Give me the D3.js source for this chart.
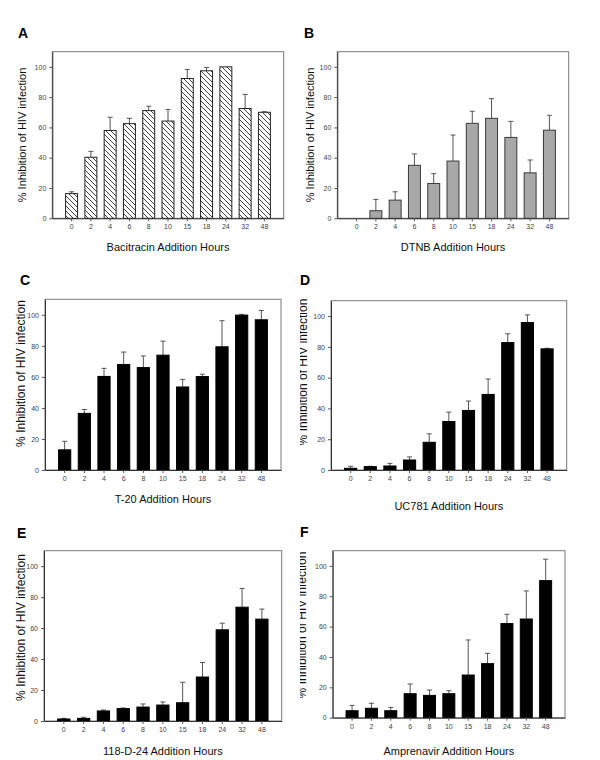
<!DOCTYPE html>
<html><head><meta charset="utf-8">
<script src="https://cdn.jsdelivr.net/npm/d3@7"></script>
<style>body{margin:0;background:#fff}svg{display:block;font-family:Arial,"Liberation Sans",sans-serif}</style>
</head><body><svg id="c" width="600" height="760"></svg>
<script>
// ---------- data ----------
const hours = ["0","2","4","6","8","10","15","18","24","32","48"];
const yTicks = [0,20,40,60,80,100];
const panelLetters = ["A","B","C","D","E","F"];
const yTitle = "% Inhibition of HIV infection";
const xTitles = ["Bacitracin Addition Hours","DTNB Addition Hours","T-20 Addition Hours",
                 "UC781 Addition Hours","118-D-24 Addition Hours","Amprenavir Addition Hours"];

const bacitracinMean = [16.3, 40.3, 58, 62.5, 71.1, 64.2, 92.3, 97.4, 100, 72.5, 70];
const bacitracinSD   = [1.2, 3.9, 8.7, 3.5, 2.9, 7.7, 6, 2.2, 0, 9.3, 0.4];
const dtnbMean = [0, 5, 12, 35, 23, 37.8, 62.7, 66, 53.4, 30, 58.2];
const dtnbSD   = [0, 7.5, 5.5, 7.5, 6.5, 17.2, 8, 13, 10.6, 8.5, 9.8];
const t20Mean = [13, 36.5, 60.3, 68, 66, 74, 53.5, 60.2, 79.4, 99.8, 96.8];
const t20SD   = [5.5, 2.5, 5.2, 8, 7.5, 9, 4.9, 1.5, 16.8, 0.5, 6];
const uc781Mean = [1.1, 2.2, 2.6, 6.5, 18, 31.5, 38.7, 49.1, 82.8, 95.8, 78.7];
const uc781SD   = [1.3, 0.2, 1.7, 2, 5.5, 6.1, 6.1, 10, 5.7, 5, 0.4];
const d24Mean = [1.3, 1.7, 6.5, 8, 9, 10.3, 11.8, 28.4, 58.9, 73.5, 65.8];
const d24SD   = [0.4, 0.7, 0.6, 0.4, 2, 2, 13.2, 9.4, 4.3, 12.1, 6.5];
const amprenavirMean = [4.6, 6.2, 4.6, 15.8, 14.7, 15.8, 28.1, 35.6, 62, 65, 90.3];
const amprenavirSD   = [3.5, 3.3, 2.2, 6.4, 3.5, 2, 23.1, 6.8, 6.1, 18.5, 14.1];

const seriesMeans = [bacitracinMean, dtnbMean, t20Mean, uc781Mean, d24Mean, amprenavirMean];
const seriesSDs   = [bacitracinSD, dtnbSD, t20SD, uc781SD, d24SD, amprenavirSD];

// ---------- layout ----------
const layout = [
  {l:52.3, r:283.7, t:51.7, b:218.3, lx:18, ly:38, xtY:251, ytX:22, ytY:135, ytS:11, fill:"hatch", clip:false},
  {l:337.3, r:568.7, t:51.7, b:218.3, lx:304, ly:38, xtY:251, ytX:310, ytY:135, ytS:11, fill:"gray", clip:false},
  {l:45, r:281, t:299.3, b:470, lx:20, ly:285, xtY:503, ytX:21, ytY:373.5, ytS:12, fill:"black", clip:false},
  {l:331, r:566.7, t:300.7, b:470, lx:300, ly:285, xtY:510, ytX:303, ytY:372, ytS:12, fill:"black", clip:true},
  {l:44, r:281.7, t:550.7, b:721, lx:17, ly:538, xtY:755, ytX:20.5, ytY:627.5, ytS:12, fill:"black", clip:false},
  {l:332.7, r:565, t:550.7, b:717.7, lx:300, ly:537, xtY:755, ytX:302, ytY:625, ytS:12, fill:"black", clip:true}
];

const svg = d3.select("#c");
const defs = svg.append("defs");
const pat = defs.append("pattern").attr("id","hatch").attr("patternUnits","userSpaceOnUse")
  .attr("width",5).attr("height",5);
pat.append("rect").attr("width",5).attr("height",5).attr("fill","#fff");
pat.append("path").attr("d","M0,0L5,5M-1,4L1,6M4,-1L6,1").attr("stroke","#111").attr("stroke-width",0.8);
defs.append("clipPath").attr("id","rightHalf").append("rect")
  .attr("x",300).attr("y",0).attr("width",300).attr("height",760);

const fills = {hatch:"url(#hatch)", gray:"#a8a8a8", black:"#000"};
const strokes = {hatch:"#222", gray:"#3a3a3a", black:"#000"};

layout.forEach((L, p) => {
  const g = svg.append("g");
  const x = d3.scaleBand().domain(hours).range([L.l, L.r]).paddingInner(0.38).paddingOuter(0.69);
  const y = d3.scaleLinear().domain([0, 110]).range([L.b, L.t]);
  const data = hours.map((h, i) => ({h, m: seriesMeans[p][i], sd: seriesSDs[p][i]}));

  // frame
  g.append("rect").attr("x", L.l).attr("y", L.t).attr("width", L.r - L.l).attr("height", L.b - L.t)
    .attr("fill","none").attr("stroke","#7a7a7a").attr("stroke-width",1);

  // error bars (behind bars)
  const eb = g.append("g").attr("stroke","#555").attr("stroke-width",1);
  data.filter(d => d.sd > 0 && d.m > 0).forEach(d => {
    const cx = x(d.h) + x.bandwidth()/2;
    eb.append("line").attr("x1",cx).attr("x2",cx).attr("y1",y(d.m)).attr("y2",y(d.m + d.sd));
    eb.append("line").attr("x1",cx-2.5).attr("x2",cx+2.5).attr("y1",y(d.m + d.sd)).attr("y2",y(d.m + d.sd));
  });

  // bars
  g.append("g").selectAll("rect").data(data.filter(d => d.m > 0)).join("rect")
    .attr("x", d => x(d.h)).attr("width", x.bandwidth())
    .attr("y", d => y(d.m)).attr("height", d => y(0) - y(d.m))
    .attr("fill", fills[L.fill]).attr("stroke", strokes[L.fill]).attr("stroke-width", 1);

  // axes
  const ax = g.append("g").attr("transform",`translate(0,${L.b})`)
    .call(d3.axisBottom(x).tickSize(3).tickSizeOuter(0));
  const ay = g.append("g").attr("transform",`translate(${L.l},0)`)
    .call(d3.axisLeft(y).tickValues(yTicks).tickSize(3).tickSizeOuter(0));
  [ax, ay].forEach(a => {
    a.select(".domain").attr("stroke","#333");
    a.selectAll(".tick line").attr("stroke","#555");
    a.selectAll(".tick text").attr("font-size",7).attr("fill","#444")
      .attr("font-family","Arial, 'Liberation Sans', sans-serif");
  });

  // titles
  g.append("text").attr("x",(L.l+L.r)/2).attr("y",L.xtY).attr("text-anchor","middle")
    .attr("font-size",11).attr("fill","#111").text(xTitles[p]);
  const ytg = g.append("g");
  if (L.clip) ytg.attr("clip-path","url(#rightHalf)");
  ytg.append("text").attr("transform",`translate(${L.ytX},${L.ytY}) rotate(-90)`)
    .attr("text-anchor","middle").attr("dy","0.35em").attr("font-size",L.ytS).attr("fill","#111").text(yTitle);
  g.append("text").attr("x",L.lx).attr("y",L.ly).attr("font-size",14).attr("font-weight","bold")
    .attr("fill","#000").text(panelLetters[p]);
});
</script></body></html>
